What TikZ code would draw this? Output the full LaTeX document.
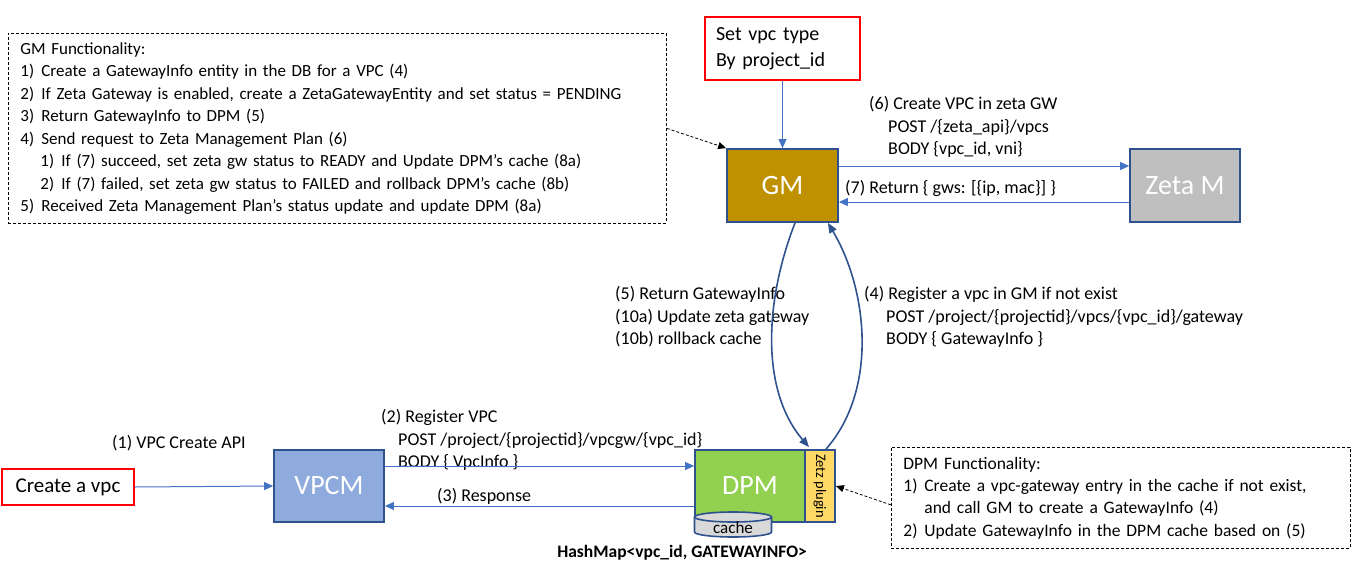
\documentclass[tikz,border=0pt]{standalone}
\usepackage{fontspec}
\setmainfont{Carlito}
\usetikzlibrary{arrows.meta}

\definecolor{arrblue}{HTML}{4472C4}
\definecolor{bordblue}{HTML}{2F528F}
\definecolor{gmgold}{HTML}{BF9000}
\definecolor{zetagray}{HTML}{BFBFBF}
\definecolor{vpcmblue}{HTML}{8FAADC}
\definecolor{dpmgreen}{HTML}{92D050}
\definecolor{plugyellow}{HTML}{FFD966}
\definecolor{cachegray}{HTML}{D9D9D9}

\newcommand{\itm}[1]{\makebox[21pt][l]{#1}}

\tikzset{
  blk/.style={draw=bordblue, line width=1.8pt, text=white, inner sep=0pt,
    minimum width=110pt, minimum height=72pt, font=\fontsize{28}{32}\selectfont},
  redbox/.style={draw=red, line width=1.2pt, text=black, inner sep=0pt},
  note/.style={draw, line width=0.8pt, dash pattern=on 3pt off 2pt, anchor=north west,
    align=left, inner sep=0pt, font=\fontsize{17}{22.5}\selectfont},
  lbl/.style={anchor=west, align=left, inner sep=0pt, font=\fontsize{18}{22.5}\selectfont},
  flow/.style={draw=arrblue, line width=1pt, -{Triangle[length=9pt,width=8pt]}},
  curvy/.style={draw=bordblue, line width=1.6pt, -{Triangle[length=10pt,width=8pt]}},
  ptr/.style={line width=0.8pt, dash pattern=on 3pt off 2pt, -{Triangle[length=8pt,width=7pt]}}
}

\begin{document}
\begin{tikzpicture}[x=1pt, y=1pt]
  \useasboundingbox (0,0) rectangle (1357,-568);

  % main boxes
  \node[blk, fill=gmgold, minimum width=111pt, minimum height=73pt] (gm) at (782.5,-185.5) {GM};
  \node[blk, fill=zetagray, minimum height=73pt] (zm) at (1185,-185.5) {Zeta M};
  \node[blk, fill=vpcmblue] (vpcm) at (329,-486) {VPCM};
  \node[blk, fill=dpmgreen] (dpm) at (750,-486) {DPM};
  \node[blk, fill=plugyellow, minimum width=30pt, text=black] (plug) at (820,-486) {};
  \node[rotate=-90, font=\fontsize{14.5}{16}\selectfont] (plugtxt) at (plug.center) {Zetz plugin};

  % cache cylinder
  \fill[cachegray] (694.5,-517) -- (694.5,-532) arc[start angle=180, end angle=360, x radius=38.5, y radius=5]
    -- (771.5,-517) arc[start angle=0, end angle=180, x radius=38.5, y radius=5] -- cycle;
  \draw[bordblue, line width=1.6pt] (694.5,-517) -- (694.5,-532) arc[start angle=180, end angle=360, x radius=38.5, y radius=5]
    -- (771.5,-517);
  \draw[bordblue, line width=1.6pt] (733,-517) ellipse[x radius=38.5, y radius=5];
  \node[font=\fontsize{17}{18}\selectfont, inner sep=0pt] (cache) at (733,-527.5) {cache};
  \node[font=\bfseries\fontsize{17.5}{20}\selectfont, inner sep=0pt] (hmap) at (682,-553) {HashMap<vpc\_id, GATEWAYINFO>};

  % red boxes
  \node[redbox, minimum width=132pt, minimum height=36pt, font=\fontsize{21}{24}\selectfont] (cv) at (68,-487) {Create a vpc};
  \node[redbox, minimum width=155pt, minimum height=63pt, text width=133pt, align=left,
    font=\fontsize{20}{26}\selectfont] (st) at (782.5,-48.5) {Set vpc type\\By project\_id};

  % notes
  \node[note, minimum width=658pt, minimum height=190pt, text width=634pt] (gf) at (8,-33) {%
    GM Functionality:\\
    \itm{1)}Create a GatewayInfo entity in the DB for a VPC (4)\\
    \itm{2)}If Zeta Gateway is enabled, create a ZetaGatewayEntity and set status = PENDING\\
    \itm{3)}Return GatewayInfo to DPM (5)\\
    \itm{4)}Send request to Zeta Management Plan (6)\\
    \hspace*{20pt}\itm{1)}If (7) succeed, set zeta gw status to READY and Update DPM's cache (8a)\\
    \hspace*{20pt}\itm{2)}If (7) failed, set zeta gw status to FAILED and rollback DPM's cache (8b)\\
    \itm{5)}Received Zeta Management Plan's status update and update DPM (8a)};
  \node[note, minimum width=459pt, minimum height=101pt, text width=435pt,
    font=\fontsize{17.5}{22.3}\selectfont] (df) at (891,-447) {%
    DPM Functionality:\\
    \itm{1)}Create a vpc-gateway entry in the cache if not exist,\\
    \hspace*{21pt}and call GM to create a GatewayInfo (4)\\
    \itm{2)}Update GatewayInfo in the DPM cache based on (5)};

  % labels
  \node[lbl] (l6) at (869,-127) {(6) Create VPC in zeta GW\\\hspace*{19pt}POST /\{zeta\_api\}/vpcs\\\hspace*{19pt}BODY \{vpc\_id, vni\}};
  \node[lbl] (l7) at (845,-188) {(7) Return \{ gws: [\{ip, mac\}] \}};
  \node[lbl] (l5) at (615,-317) {(5) Return GatewayInfo\\(10a) Update zeta gateway\\(10b) rollback cache};
  \node[lbl] (l4) at (864,-317) {(4) Register a vpc in GM if not exist\\\hspace*{22pt}POST /project/\{projectid\}/vpcs/\{vpc\_id\}/gateway\\\hspace*{22pt}BODY \{ GatewayInfo \}};
  \node[lbl] (l1) at (112,-443) {(1) VPC Create API};
  \node[lbl] (l2) at (381,-440) {(2) Register VPC\\\hspace*{17pt}POST /project/\{projectid\}/vpcgw/\{vpc\_id\}\\\hspace*{17pt}BODY \{ VpcInfo \}};
  \node[lbl] (l3) at (437,-496) {(3) Response};

  % connectors
  \draw[flow] (st.south) -- (gm.north);
  \draw[flow] ([yshift=19.5pt]gm.east) -- ([yshift=19.5pt]zm.west);
  \draw[flow] ([yshift=-16.5pt]zm.west) -- ([yshift=-16.5pt]gm.east);
  \draw[flow] (cv.east) -- (vpcm.west);
  \draw[flow] ([yshift=20pt]vpcm.east) -- ([yshift=20pt]dpm.west);
  \draw[flow] ([yshift=-20pt]dpm.west) -- ([yshift=-20pt]vpcm.east);
  \draw[curvy] ([xshift=12.5pt]gm.south) .. controls (765,-300) and (760,-390) .. ([xshift=-11pt,yshift=2pt]plug.north);
  \draw[curvy] ([xshift=6pt]plug.north) .. controls (878,-390) and (868,-290) .. ([xshift=-11pt]gm.south east);
  \draw[ptr] (gf.east) -- (gm.north west);
  \draw[ptr] ([yshift=-7pt]df.west) -- (plug.east);
\end{tikzpicture}
\end{document}
